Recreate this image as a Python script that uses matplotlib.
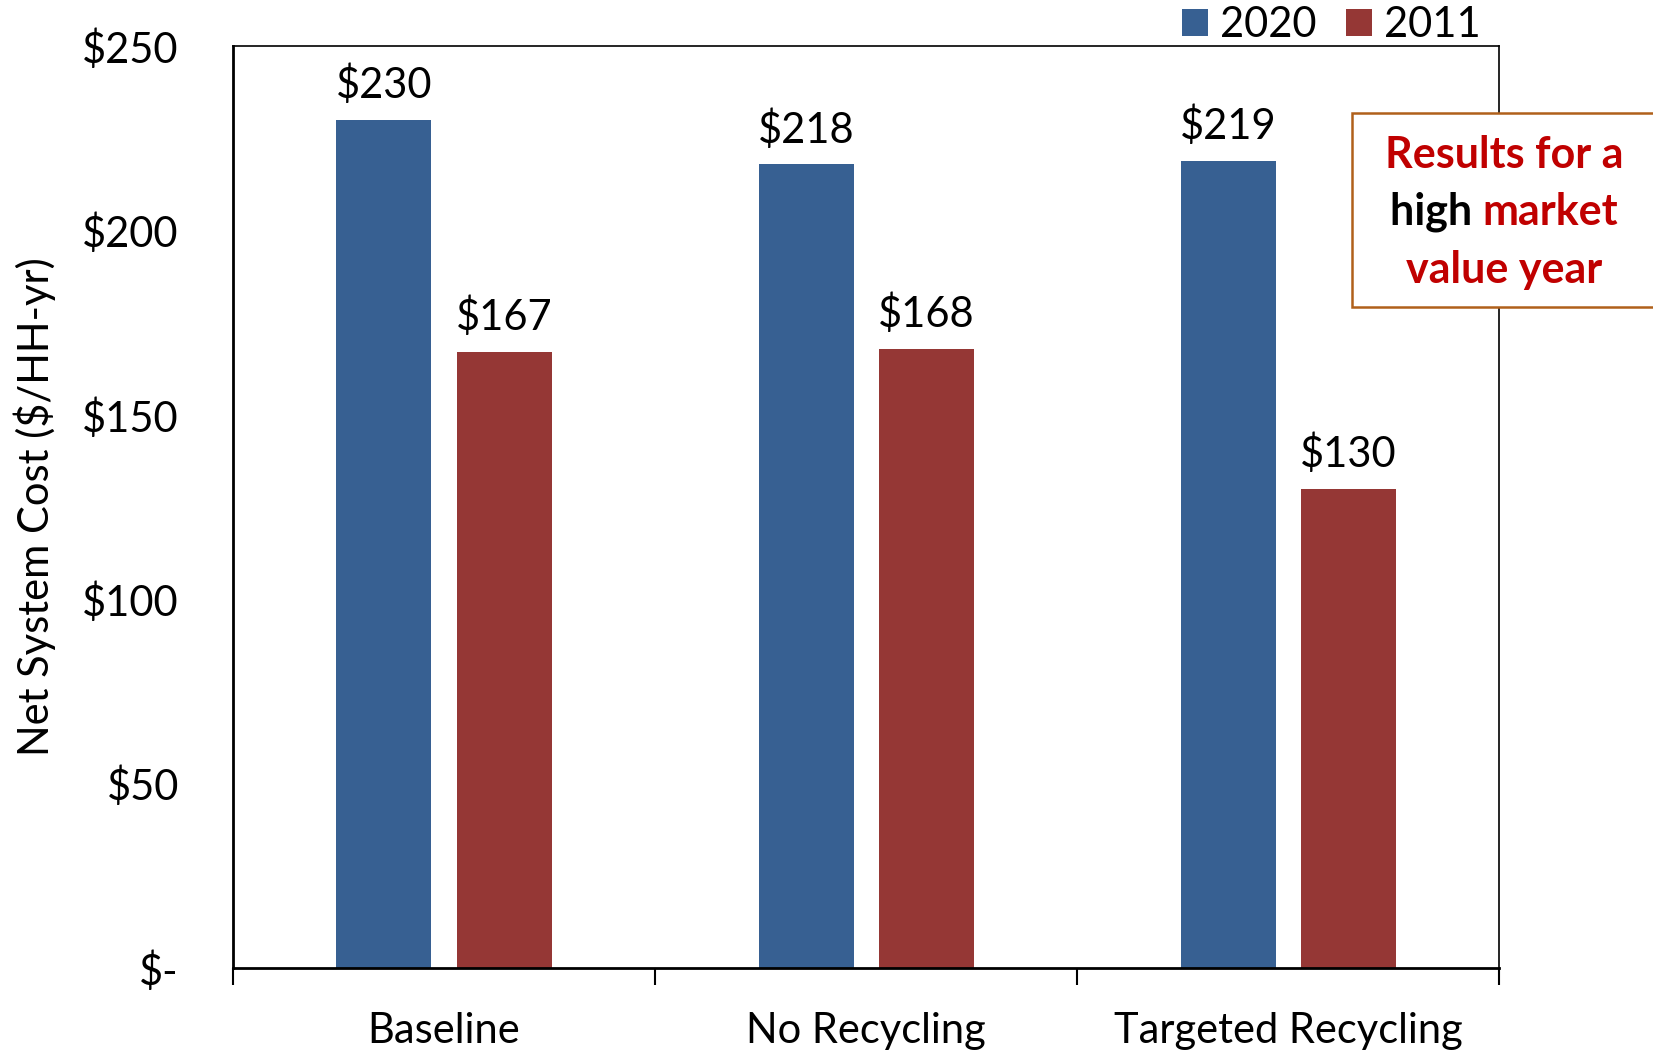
# ============================================================
# NET SYSTEM COST - 2020 vs 2011
# ============================================================

import numpy as np
import matplotlib.pyplot as plt
from matplotlib.patches import Rectangle

# ============================================================
# 1. DADOS
# ============================================================

categories = ["Baseline", "No Recycling", "Targeted Recycling"]

cost_2020 = [230, 218, 219]
cost_2011 = [167, 168, 130]

series_names = ["2020", "2011"]

y_ticks = [0, 50, 100, 150, 200, 250]
y_tick_labels = ["$-", "$50", "$100", "$150", "$200", "$250"]

# ============================================================
# 2. ESTILO
# ============================================================

plt.rcParams["font.family"] = ["Lato", "DejaVu Sans"]

COLOR_2020 = "#376092"
COLOR_2011 = "#953735"
FONT = 30

fig = plt.figure(figsize=(16.53, 10.52), dpi=100)
ax = fig.add_axes([0.141, 0.080, 0.766, 0.876])

# ============================================================
# 3. BARRAS
# ============================================================

x = np.arange(len(categories))
bar_w = 0.225
offset = 0.1425

bars_2020 = ax.bar(x - offset, cost_2020, bar_w, color=COLOR_2020,
                   label=series_names[0])
bars_2011 = ax.bar(x + offset, cost_2011, bar_w, color=COLOR_2011,
                   label=series_names[1])

for bars in (bars_2020, bars_2011):
    for bar in bars:
        h = bar.get_height()
        ax.text(
            bar.get_x() + bar.get_width() / 2,
            h + 4,
            f"${h:,.0f}",
            ha="center",
            va="bottom",
            fontsize=FONT
        )

# ============================================================
# 4. EIXOS
# ============================================================

ax.set_xlim(-0.5, len(categories) - 0.5)
ax.set_ylim(0, 250)

ax.set_yticks(y_ticks)
ax.set_yticklabels(y_tick_labels, fontsize=FONT)
ax.tick_params(axis="y", length=0, pad=39)
for lbl in ax.get_yticklabels():
    lbl.set_horizontalalignment("right")

ax.set_xticks(x)
ax.set_xticklabels(categories, fontsize=FONT)
ax.tick_params(axis="x", length=0, pad=32)
ax.set_xticks(np.arange(len(categories) + 1) - 0.5, minor=True)
ax.tick_params(axis="x", which="minor", length=12, width=1.5,
               direction="out")

ax.set_ylabel("Net System Cost ($/HH-yr)", fontsize=FONT, labelpad=19)

for side in ["left", "bottom"]:
    ax.spines[side].set_linewidth(2)
for side in ["top", "right"]:
    ax.spines[side].set_linewidth(1.2)

# ============================================================
# 5. LEGENDA
# ============================================================

fig.legend(
    handles=[bars_2020, bars_2011],
    labels=series_names,
    loc="center right",
    bbox_to_anchor=(1481 / 1653, 1 - 25 / 1052),
    ncol=2,
    frameon=False,
    fontsize=FONT,
    handlelength=0.62,
    handleheight=0.62,
    handletextpad=0.3,
    columnspacing=0.7,
    borderaxespad=0,
    borderpad=0
)

# ============================================================
# 6. CAIXA DE DESTAQUE
# ============================================================

box = Rectangle(
    (1352 / 1653, 1 - 307 / 1052),
    (1660 - 1352) / 1653,
    (307 - 113) / 1052,
    transform=fig.transFigure,
    facecolor="white",
    edgecolor="#B0601A",
    linewidth=1.8,
    clip_on=False,
    zorder=5
)
fig.patches.append(box)

RED = "#C00000"
cx = 1504 / 1653
BOX_FONT = 31

fig.text(cx, 1 - 155 / 1052, "Results for a", color=RED, fontsize=BOX_FONT,
         fontweight="bold", ha="center", va="center", zorder=6)
fig.text(cx, 1 - 270 / 1052, "value year", color=RED, fontsize=BOX_FONT,
         fontweight="bold", ha="center", va="center", zorder=6)

renderer = fig.canvas.get_renderer()
t_high = fig.text(0, 1 - 212 / 1052, "high ", color="black",
                  fontsize=BOX_FONT, fontweight="bold", ha="left",
                  va="center", zorder=6)
t_market = fig.text(0, 1 - 212 / 1052, "market", color=RED,
                    fontsize=BOX_FONT, fontweight="bold", ha="left",
                    va="center", zorder=6)
w_high = t_high.get_window_extent(renderer).width / fig.bbox.width
w_market = t_market.get_window_extent(renderer).width / fig.bbox.width
start = cx - (w_high + w_market) / 2
t_high.set_x(start)
t_market.set_x(start + w_high)

# ============================================================
# 7. EXPORTAR
# ============================================================

fig.savefig("out.png", dpi=100)
plt.close()
